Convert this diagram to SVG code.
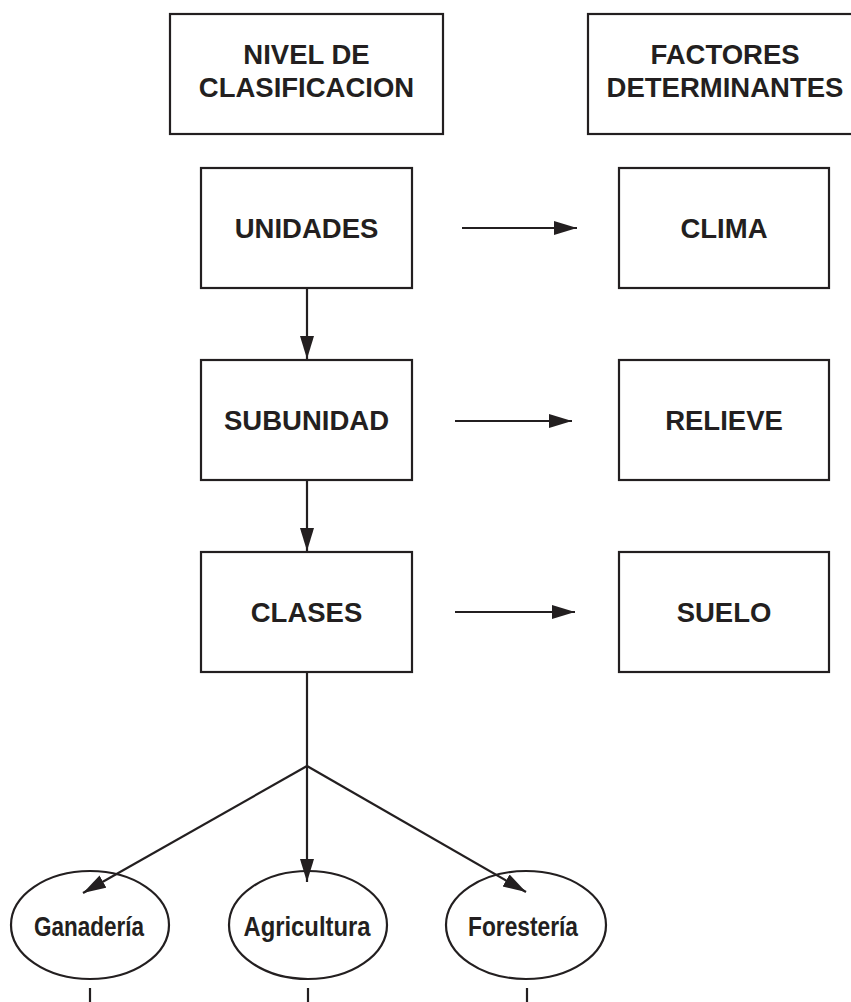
<svg xmlns="http://www.w3.org/2000/svg" width="851" height="1002" viewBox="0 0 851 1002">
<defs>
<style>
.box{fill:#fff;stroke:#231f20;stroke-width:2.2}
.el{fill:#fff;stroke:#231f20;stroke-width:2.2}
.t{font-family:"Liberation Sans",Arial,sans-serif;font-weight:bold;font-size:27.5px;fill:#231f20;text-anchor:middle}
.e{font-family:"Liberation Sans",Arial,sans-serif;font-weight:bold;font-size:28px;fill:#231f20;text-anchor:middle}
.c{stroke:#231f20;stroke-width:2.2;fill:none}
.a{marker-end:url(#arr)}
</style>
<marker id="arr" markerUnits="userSpaceOnUse" markerWidth="25" markerHeight="15" refX="23" refY="7" orient="auto">
<path d="M0,0 L23,7 L0,14 z" fill="#231f20"/>
</marker>
</defs>
<rect width="851" height="1002" fill="#fff"/>
<g id="nivel">
<rect class="box" x="170" y="14" width="273" height="120"/>
<text class="t" x="306.5" y="64">NIVEL DE</text>
<text class="t" x="306.5" y="97">CLASIFICACION</text>
</g>
<g id="factores">
<rect class="box" x="588" y="14" width="274" height="120"/>
<text class="t" x="725" y="64">FACTORES</text>
<text class="t" x="725" y="97">DETERMINANTES</text>
</g>
<g id="unidades">
<rect class="box" x="201" y="168" width="211" height="120"/>
<text class="t" x="306.5" y="237.5">UNIDADES</text>
</g>
<g id="subunidad">
<rect class="box" x="201" y="360" width="211" height="120"/>
<text class="t" x="306.5" y="429.5">SUBUNIDAD</text>
</g>
<g id="clases">
<rect class="box" x="201" y="552" width="211" height="120"/>
<text class="t" x="306.5" y="621.5">CLASES</text>
</g>
<g id="clima">
<rect class="box" x="619" y="168" width="210" height="120"/>
<text class="t" x="724" y="237.5">CLIMA</text>
</g>
<g id="relieve">
<rect class="box" x="619" y="360" width="210" height="120"/>
<text class="t" x="724" y="429.5">RELIEVE</text>
</g>
<g id="suelo">
<rect class="box" x="619" y="552" width="210" height="120"/>
<text class="t" x="724" y="621.5">SUELO</text>
</g>
<g id="ganaderia">
<ellipse class="el" cx="90" cy="925" rx="79" ry="54"/>
<text class="e" x="89" y="936" textLength="110" lengthAdjust="spacingAndGlyphs">Ganadería</text>
</g>
<g id="agricultura">
<ellipse class="el" cx="308" cy="925" rx="79" ry="54"/>
<text class="e" x="307" y="936" textLength="127" lengthAdjust="spacingAndGlyphs">Agricultura</text>
</g>
<g id="forestaria">
<ellipse class="el" cx="526" cy="925" rx="80" ry="54"/>
<text class="e" x="523" y="936" textLength="110" lengthAdjust="spacingAndGlyphs">Forestería</text>
</g>
<g id="connectors">
<line class="c a" x1="462" y1="228" x2="577" y2="228"/>
<line class="c a" x1="455" y1="421" x2="572" y2="421"/>
<line class="c a" x1="455" y1="612" x2="575" y2="612"/>
<line class="c a" x1="307" y1="288" x2="307" y2="359"/>
<line class="c a" x1="307" y1="480" x2="307" y2="551"/>
<line class="c" x1="307" y1="672" x2="307" y2="766"/>
<line class="c a" x1="307" y1="766" x2="83" y2="893"/>
<line class="c a" x1="307" y1="766" x2="307" y2="882"/>
<line class="c a" x1="307" y1="766" x2="526" y2="892"/>
<line class="c" x1="90" y1="988" x2="90" y2="1002"/>
<line class="c" x1="308" y1="988" x2="308" y2="1002"/>
<line class="c" x1="527" y1="988" x2="527" y2="1002"/>
</g>
</svg>
